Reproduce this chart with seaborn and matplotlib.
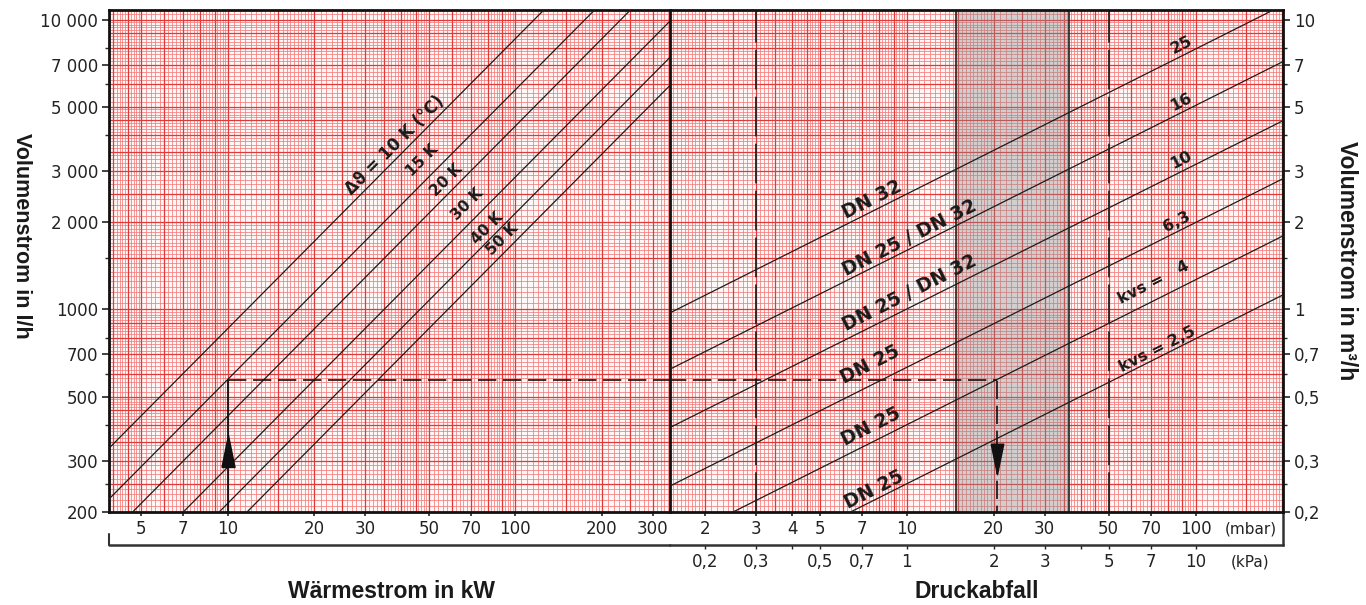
import numpy as np
import pandas as pd
import matplotlib
matplotlib.use('Agg')
import matplotlib.pyplot as plt
import seaborn as sns

# --- data ---
# heat flow lines: kW -> l/h, one line per temperature spread
heat_kw = [3.5, 400]
dt_names = ['10 K', '15 K', '20 K', '30 K', '40 K', '50 K']
flow_10k = [301, 34400]
flow_15k = [201, 22900]
flow_20k = [150, 17200]
flow_30k = [100, 11470]
flow_40k = [75, 8600]
flow_50k = [60, 6880]

# valve lines: mbar -> m3/h, one line per kvs value
dp_mbar = [1.5, 200]
kvs_names = ['25', '16', '10', '6,3', '4', '2,5']
v_kvs25 = [0.97, 11.2]
v_kvs16 = [0.62, 7.15]
v_kvs10 = [0.39, 4.47]
v_kvs63 = [0.245, 2.82]
v_kvs4 = [0.155, 1.79]
v_kvs25s = [0.097, 1.12]
dn_names = ['DN 32', 'DN 25 / DN 32', 'DN 25 / DN 32', 'DN 25', 'DN 25', 'DN 25']

# worked example: 10 kW at 15 K -> 573 l/h -> ~20 mbar with kvs 4
example_kw = 10
example_flow = 573
example_dp = 20.5
ref_dp = [3, 50]
shade_dp = [14.8, 36.5]

# ticks
kw_ticks = [5, 7, 10, 20, 30, 50, 70, 100, 200, 300]
mbar_ticks = [2, 3, 4, 5, 7, 10, 20, 30, 50, 70, 100]
kpa_ticks = [0.2, 0.3, 0.5, 0.7, 1, 2, 3, 5, 7, 10]
kpa_labels = ['0,2', '0,3', '0,5', '0,7', '1', '2', '3', '5', '7', '10']
lh_ticks = [200, 300, 500, 700, 1000, 2000, 3000, 5000, 7000, 10000]
lh_labels = ['200', '300', '500', '700', '1000', '2 000', '3 000', '5 000', '7 000', '10 000']
m3h_ticks = [0.2, 0.3, 0.5, 0.7, 1, 2, 3, 5, 7, 10]
m3h_labels = ['0,2', '0,3', '0,5', '0,7', '1', '2', '3', '5', '7', '10']

heat = pd.DataFrame({
    'kw': heat_kw * 6,
    'flow': flow_10k + flow_15k + flow_20k + flow_30k + flow_40k + flow_50k,
    'dt': np.repeat(dt_names, 2),
})
valve = pd.DataFrame({
    'dp': dp_mbar * 6,
    'flow': v_kvs25 + v_kvs16 + v_kvs10 + v_kvs63 + v_kvs4 + v_kvs25s,
    'kvs': np.repeat(kvs_names, 2),
})

sns.set_theme(style='white')
plt.rcParams['font.family'] = ['DejaVu Sans']
TITLE_FONT = ['Liberation Sans', 'DejaVu Sans']

W, H = 1366, 605
fig = plt.figure(figsize=(W / 100, H / 100), dpi=100)
ax_l = fig.add_axes([109 / W, 93 / H, 561 / W, 502 / H])
ax_r = fig.add_axes([670 / W, 93 / H, 613 / W, 502 / H])

for ax in (ax_l, ax_r):
    ax.set_xscale('log')
    ax.set_yscale('log')
    ax.set_facecolor('#fff6f6')
    for s in ax.spines.values():
        s.set_color('#111111')
        s.set_linewidth(2)

ax_l.set_xlim(3.86, 345)
ax_l.set_ylim(200, 10800)
ax_r.set_xlim(1.51, 201)
ax_r.set_ylim(0.2, 10.8)
ax_l.spines['right'].set_visible(False)

# red log paper
minor_m = np.r_[np.arange(1, 2, 0.05), np.arange(2, 5, 0.1), np.arange(5, 10, 0.2)]
major_m = np.r_[np.arange(1, 5, 0.5), np.arange(5, 10, 1.0)]


def paper(lo, hi, mant):
    out = []
    for e in range(int(np.floor(np.log10(lo))), int(np.ceil(np.log10(hi))) + 1):
        out.extend(mant * 10.0 ** e)
    vals = np.array(out)
    return vals[(vals > lo) & (vals < hi)]


for ax in (ax_l, ax_r):
    x0, x1 = ax.get_xlim()
    y0, y1 = ax.get_ylim()
    for mant, col, lw in ((minor_m, '#f27c7c', 0.55), (major_m, '#df3a3a', 0.9)):
        ax.vlines(paper(x0, x1, mant), 0, 1, transform=ax.get_xaxis_transform(),
                  color=col, lw=lw, zorder=0.5)
        ax.hlines(paper(y0, y1, mant), 0, 1, transform=ax.get_yaxis_transform(),
                  color=col, lw=lw, zorder=0.5)

# grey band and reference lines in the pressure part
ax_r.axvspan(shade_dp[0], shade_dp[1], color='#8c8c8c', alpha=0.38, lw=0, zorder=1)
for v in shade_dp:
    ax_r.axvline(v, color='#222222', lw=1.2, zorder=2)
for v in ref_dp:
    ax_r.axvline(v, color='#222222', lw=1.3, dashes=(22, 4), zorder=2)

# the lines
sns.lineplot(data=heat, x='kw', y='flow', units='dt', estimator=None,
             color='#1c1c1c', lw=0.9, ax=ax_l, legend=False, zorder=3)
sns.lineplot(data=valve, x='dp', y='flow', units='kvs', estimator=None,
             color='#1c1c1c', lw=0.9, ax=ax_r, legend=False, zorder=3)
for ax in (ax_l, ax_r):
    ax.set_xlabel('')
    ax.set_ylabel('')

# worked example (dashed path with arrows)
dash_kw = dict(color='#111111', lw=1.2, dashes=(11, 4), zorder=4)
ax_l.plot([example_kw, 1000], [example_flow, example_flow], **dash_kw)
ax_l.plot([example_kw, example_kw], [100, example_flow], color='#111111', lw=1.3, zorder=4)
ax_r.plot([1, example_dp], [example_flow / 1000, example_flow / 1000], **dash_kw)
ax_r.plot([example_dp, example_dp], [0.1, example_flow / 1000], **dash_kw)
up = [(-0.41, -1), (0.41, -1), (0, 1), (-0.41, -1)]
down = [(-0.41, 1), (0.41, 1), (0, -1), (-0.41, 1)]
ax_l.plot([example_kw], [325], marker=up, markersize=23, color='#111111', zorder=5)
ax_r.plot([example_dp], [0.305], marker=down, markersize=22, color='#111111', zorder=5)

# line labels
dt_text = ['Δϑ = 10 K (°C)', '15 K', '20 K', '30 K', '40 K', '50 K']
dt_size = [12, 11, 11, 11, 11, 11]
dt_at_kw = [38, 47.5, 57.6, 68.1, 80, 90.1]
dt_at_flow = [3700, 3280, 2800, 2300, 1910, 1740]
for t, x, y, fs in zip(dt_text, dt_at_kw, dt_at_flow, dt_size):
    ax_l.text(x, y, t, rotation=45, rotation_mode='anchor', ha='center', va='center',
              fontsize=fs, fontweight='bold', color='#1a1a1a', zorder=6)

dn_at_dp = [7.55, 10.24, 10.24, 7.43, 7.49, 7.67]
dn_at_flow = [2.40, 1.77, 1.14, 0.643, 0.393, 0.238]
for t, x, y in zip(dn_names, dn_at_dp, dn_at_flow):
    ax_r.text(x, y, t, rotation=26.8, rotation_mode='anchor', ha='center', va='center',
              fontsize=13.5, fontweight='bold', color='#1a1a1a', zorder=6)

kvs_text = ['25', '16', '10', '6,3', 'kvs =   4', 'kvs = 2,5']
kvs_at_dp = [89.3, 89.3, 89.3, 85.9, 71.8, 73.7]
kvs_at_flow = [8.2, 5.18, 3.28, 2.0, 1.24, 0.726]
for t, x, y in zip(kvs_text, kvs_at_dp, kvs_at_flow):
    ax_r.text(x, y, t, rotation=26.8, rotation_mode='anchor', ha='center', va='center',
              fontsize=11.5, fontweight='bold', color='#1a1a1a', zorder=6)

# ticks
tick_kw = dict(labelsize=12, labelcolor='#222222', color='#222222')
ax_l.set_xticks(kw_ticks, labels=[str(v) for v in kw_ticks])
ax_l.set_yticks(lh_ticks, labels=lh_labels)
ax_l.set_xticks([], minor=True)
ax_l.set_yticks([250, 400, 600, 800, 1500, 4000, 6000, 8000], labels=[''] * 8, minor=True)
ax_l.tick_params(axis='both', which='major', width=1.2, pad=3, direction='out', **tick_kw)
ax_l.tick_params(axis='y', which='minor', length=3, width=1, left=True)
ax_l.tick_params(axis='both', which='both', top=False, right=False)
ax_l.tick_params(axis='x', which='major', bottom=True, length=3)
ax_l.tick_params(axis='y', which='major', left=True, length=5)

ax_r.set_xticks(mbar_ticks, labels=[str(v) for v in mbar_ticks])
ax_r.set_xticks([], minor=True)
ax_r.yaxis.tick_right()
ax_r.set_yticks(m3h_ticks, labels=m3h_labels)
ax_r.set_yticks([0.25, 0.4, 0.6, 0.8, 1.5, 4, 6, 8], labels=[''] * 8, minor=True)
ax_r.tick_params(axis='both', which='major', width=1.2, pad=3, direction='out', **tick_kw)
ax_r.tick_params(axis='y', which='minor', length=3, width=1, right=True)
ax_r.tick_params(axis='both', which='both', top=False, left=False)
ax_r.tick_params(axis='x', which='major', bottom=True, length=3)
ax_r.tick_params(axis='y', which='major', right=True, length=5)

# kPa scale below the mbar scale
off = -33 / 502
sec = ax_r.secondary_xaxis(off, functions=(lambda x: x / 10, lambda x: x * 10))
sec.set_xticks(kpa_ticks, labels=kpa_labels)
sec.set_xticks([0.4, 4], labels=['', ''], minor=True)
sec.tick_params(axis='x', which='both', length=3, width=1, pad=3, direction='out', **tick_kw)
sec.spines['bottom'].set_color('#333333')
sec.spines['bottom'].set_linewidth(1.8)

ax_l.plot([0, 1], [off, off], transform=ax_l.transAxes, clip_on=False, color='#333333', lw=1.8)
ax_l.plot([0, 0], [off, off + 0.022], transform=ax_l.transAxes, clip_on=False, color='#333333', lw=1.5)
ax_r.plot([1, 1], [0, off], transform=ax_r.transAxes, clip_on=False, color='#333333', lw=1.8)

unit_kw = dict(xycoords=('data', 'axes fraction'), textcoords='offset points',
               ha='center', va='top', fontsize=11, color='#222222')
ax_r.annotate('(mbar)', xy=(155, 0), xytext=(0, -6.5), **unit_kw)
ax_r.annotate('(kPa)', xy=(155, off), xytext=(0, -6.5), **unit_kw)

# axis titles
title_kw = dict(fontweight='bold', color='#1a1a1a', ha='center', va='center', family=TITLE_FONT)
fig.text(391 / W, 1 - 591 / H, 'Wärmestrom in kW', fontsize=16.5, **title_kw)
fig.text(977 / W, 1 - 591 / H, 'Druckabfall', fontsize=16.5, **title_kw)
fig.text(21 / W, 1 - 236 / H, 'Volumenstrom in l/h', rotation=270, fontsize=15.5, **title_kw)
fig.text(1346 / W, 1 - 261 / H, 'Volumenstrom in m³/h', rotation=270, fontsize=16.5, **title_kw)

fig.savefig('out.png', dpi=100, facecolor='white')
